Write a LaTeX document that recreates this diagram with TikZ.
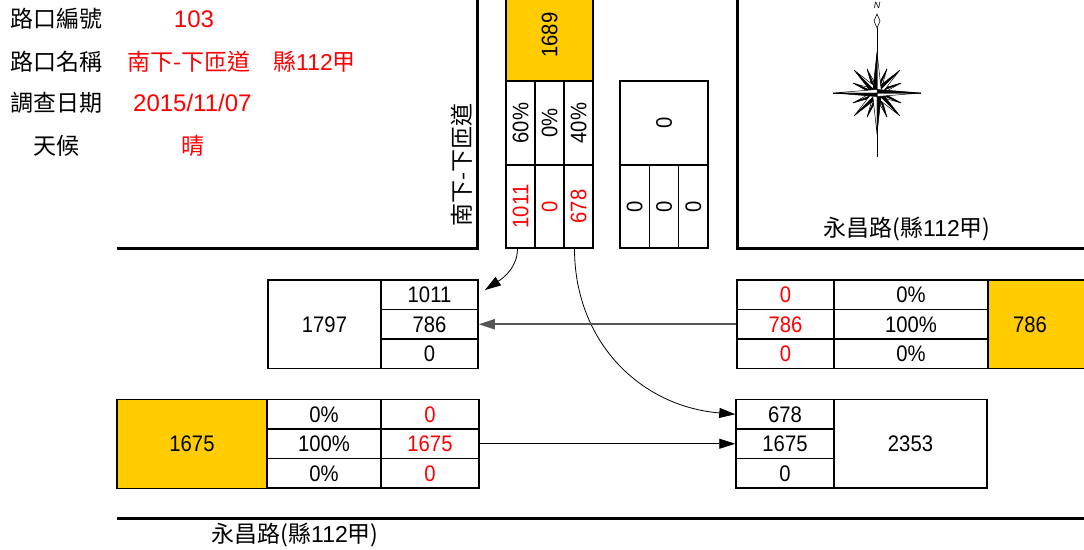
\documentclass[tikz,border=0pt]{standalone}
\usepackage{fontspec}
\setmainfont{Liberation Sans}
\newfontfamily\cjk{Noto Sans CJK TC}
\newfontfamily\narrowfont[FakeStretch=0.9]{Liberation Sans}
\usetikzlibrary{arrows.meta}
\definecolor{cyel}{HTML}{FFCC00}
\definecolor{cred}{HTML}{FF0000}
\definecolor{cgray}{HTML}{555555}
\newcommand\compasspt[3]{%
  \fill[black] (0,0) -- (#1:#2pt) -- (#1+90:#3pt) -- cycle;
  \filldraw[fill=white,draw=black,line width=0.5pt] (0,0) -- (#1:#2pt) -- (#1-90:#3pt) -- cycle;
  \draw[line width=0.5pt] (0,0) -- (#1:#2pt) -- (#1+90:#3pt) -- cycle;}
\begin{document}
\begin{tikzpicture}[x=1pt,y=-1pt,
  cell/.style n args={2}{draw,line width=1.5pt,inner sep=0pt,minimum width=#1,minimum height=#2,font=\narrowfont\fontsize{22.5}{26}\selectfont},
  num/.style={inner sep=0pt,font=\narrowfont\fontsize{22.5}{26}\selectfont},
  info/.style={inner sep=0pt,font=\cjk\fontsize{23}{27}\selectfont},
  infonum/.style={inner sep=0pt,font=\fontsize{24}{28}\selectfont},
  road/.style={line width=3pt},
  arr/.style={line width=0.8pt,-{Triangle[length=16pt,width=10pt]}},
  arrg/.style={line width=1.8pt,draw=cgray,-{Triangle[length=16pt,width=10pt]}}]
\useasboundingbox (0,0) rectangle (1084,549);

% info block
\node[info,anchor=west] (l1) at (10,19) {路口編號};
\node[infonum,text=cred] (v1) at (194,19) {103};
\node[info,anchor=west] (l2) at (10,62) {路口名稱};
\node[info,anchor=west,text=cred] (v2) at (127,62) {南下-下匝道　縣\fontspec{Liberation Sans}112\cjk 甲};
\node[info,anchor=west] (l3) at (10,103) {調查日期};
\node[infonum,anchor=west,text=cred] (v3) at (133,103) {2015/11/07};
\node[info,anchor=west] (l4) at (33,146) {天候};
\node[info,text=cred] (v4) at (193,146) {晴};

% roads
\draw[road] (117,248) -- (477,248) -- (477,-5);
\draw[road] (737,-5) -- (737,248) -- (1090,248);
\draw[road] (117,518) -- (1090,518);

% road names
\node[info,rotate=90] (rn1) at (462,165) {南下-下匝道};
\node[info] (rn2) at (907,229) {永昌路(縣\fontspec{Liberation Sans}112\cjk 甲)};
\node[info] (rn3) at (295,535) {永昌路(縣\fontspec{Liberation Sans}112\cjk 甲)};

% compass
\begin{scope}[shift={(877,93)}]
  \draw[line width=0.8pt] (0,-65) -- (0,64);
  \draw[line width=0.8pt] (-44,0) -- (44,0);
  \foreach \k in {0,...,7}{\pgfmathsetmacro\ang{22.5+45*\k}\compasspt{\ang}{26}{3}}
  \foreach \k in {0,...,3}{\pgfmathsetmacro\ang{45+90*\k}\compasspt{\ang}{32}{4}}
  \compasspt{90}{41}{4.5}
  \compasspt{270}{41}{4.5}
  \compasspt{0}{44}{3.5}
  \compasspt{180}{44}{3.5}
  \draw[line width=0.6pt,fill=white] (0,-79) -- (3,-72) -- (0,-65) -- (-3,-72) -- cycle;
  \node[inner sep=0pt,font=\fontsize{9}{9}\selectfont\itshape] (nn) at (0,-88) {N};
\end{scope}

% south approach (incoming)
\node[cell={87pt}{95pt},fill=cyel] (sin) at (549.5,33.5) {};
\node[num,rotate=90] (t1689) at (549.5,35) {1689};
\node[cell={29pt}{84pt}] (sp1) at (520.5,123) {};
\node[cell={29pt}{84pt}] (sp2) at (549.5,123) {};
\node[cell={29pt}{84pt}] (sp3) at (578.5,123) {};
\node[num,rotate=90] (tsp1) at (sp1) {60\%};
\node[num,rotate=90] (tsp2) at (sp2) {0\%};
\node[num,rotate=90] (tsp3) at (sp3) {40\%};
\node[cell={29pt}{83pt}] (sv1) at (520.5,206.5) {};
\node[cell={29pt}{83pt}] (sv2) at (549.5,206.5) {};
\node[cell={29pt}{83pt}] (sv3) at (578.5,206.5) {};
\node[num,rotate=90,text=cred] (tsv1) at (sv1) {1011};
\node[num,rotate=90,text=cred] (tsv2) at (sv2) {0};
\node[num,rotate=90,text=cred] (tsv3) at (sv3) {678};

% north exit
\node[cell={88pt}{84pt}] (nout) at (664,123) {};
\node[num,rotate=90] (tnout) at (nout) {0};
\node[cell={29.33pt}{83pt}] (nv1) at (634.67,206.5) {};
\node[cell={29.33pt}{83pt}] (nv2) at (664,206.5) {};
\node[cell={29.33pt}{83pt}] (nv3) at (693.33,206.5) {};
\node[num,rotate=90] (tnv1) at (nv1) {0};
\node[num,rotate=90] (tnv2) at (nv2) {0};
\node[num,rotate=90] (tnv3) at (nv3) {0};

% west exit
\node[cell={113pt}{88.5pt}] (wout) at (324.5,324.25) {1797};
\node[cell={97pt}{29.5pt}] (wo1) at (429.5,294.75) {1011};
\node[cell={97pt}{29.5pt}] (wo2) at (429.5,324.25) {786};
\node[cell={97pt}{29.5pt}] (wo3) at (429.5,353.75) {0};

% east approach
\node[cell={97pt}{29.5pt},text=cred] (ev1) at (785.5,294.75) {0};
\node[cell={97pt}{29.5pt},text=cred] (ev2) at (785.5,324.25) {786};
\node[cell={97pt}{29.5pt},text=cred] (ev3) at (785.5,353.75) {0};
\node[cell={154pt}{29.5pt}] (ep1) at (911,294.75) {0\%};
\node[cell={154pt}{29.5pt}] (ep2) at (911,324.25) {100\%};
\node[cell={154pt}{29.5pt}] (ep3) at (911,353.75) {0\%};
\fill[cyel] (988,280) rectangle (1090,368.5);
\draw[line width=1.5pt] (1090,280) -- (988,280) -- (988,368.5) -- (1090,368.5);
\node[num] (t786) at (1030,324.25) {786};

% west approach
\node[cell={150pt}{89pt},fill=cyel] (win) at (192,444) {1675};
\node[cell={114pt}{29.5pt}] (wp1) at (324,414.25) {0\%};
\node[cell={114pt}{29.5pt}] (wp2) at (324,443.75) {100\%};
\node[cell={114pt}{29.5pt}] (wp3) at (324,473.25) {0\%};
\node[cell={98pt}{29.5pt},text=cred] (wi1) at (430,414.25) {0};
\node[cell={98pt}{29.5pt},text=cred] (wi2) at (430,443.75) {1675};
\node[cell={98pt}{29.5pt},text=cred] (wi3) at (430,473.25) {0};

% east exit
\node[cell={98pt}{29.5pt}] (eo1) at (785,414.25) {678};
\node[cell={98pt}{29.5pt}] (eo2) at (785,443.75) {1675};
\node[cell={98pt}{29.5pt}] (eo3) at (785,473.25) {0};
\node[cell={153pt}{88.5pt}] (eout) at (910.5,443.75) {2353};

% connectors
\coordinate (ta1) at (485,290);
\draw[arr] ([xshift=-3pt]sv1.south) .. controls +(0,22) and +(12,-8) .. (ta1);
\draw[arr] ([xshift=-4pt]sv3.south) .. controls +(0,92) and +(-96,-8) .. (eo1.west);
\draw[arrg] (ev2.west) -- (wo2.east);
\draw[arr] (wi2.east) -- (eo2.west);
\end{tikzpicture}
\end{document}
